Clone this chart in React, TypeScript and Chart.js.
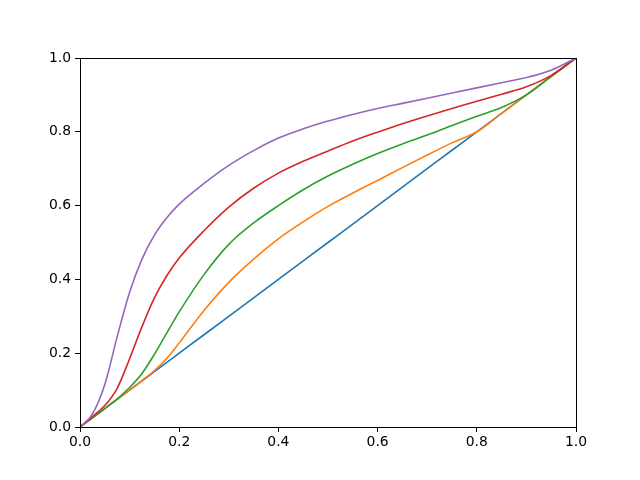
import React, { useEffect, useRef } from "react";
import { Chart, registerables } from "chart.js";

Chart.register(...registerables);

const xs = [0, 0.025, 0.05, 0.075, 0.1, 0.125, 0.15, 0.175, 0.2, 0.25, 0.3, 0.35, 0.4, 0.45, 0.5, 0.55, 0.6, 0.65, 0.7, 0.75, 0.8, 0.85, 0.9, 0.95, 1];
const blue = [0, 0.025, 0.05, 0.075, 0.1, 0.125, 0.15, 0.175, 0.2, 0.25, 0.3, 0.35, 0.4, 0.45, 0.5, 0.55, 0.6, 0.65, 0.7, 0.75, 0.8, 0.85, 0.9, 0.95, 1];
const orange = [0, 0.025, 0.05, 0.075, 0.1, 0.126, 0.153, 0.186, 0.228, 0.316, 0.392, 0.455, 0.51, 0.556, 0.598, 0.634, 0.668, 0.703, 0.737, 0.77, 0.8, 0.85, 0.9, 0.95, 1];
const green = [0, 0.025, 0.05, 0.076, 0.107, 0.145, 0.197, 0.255, 0.312, 0.413, 0.495, 0.553, 0.6, 0.643, 0.68, 0.712, 0.741, 0.767, 0.791, 0.817, 0.842, 0.866, 0.9, 0.95, 1];
const red = [0, 0.028, 0.058, 0.105, 0.185, 0.272, 0.35, 0.41, 0.458, 0.532, 0.596, 0.647, 0.688, 0.72, 0.748, 0.775, 0.799, 0.822, 0.843, 0.863, 0.883, 0.902, 0.922, 0.953, 1];
const purple = [0, 0.035, 0.115, 0.245, 0.365, 0.455, 0.52, 0.567, 0.604, 0.66, 0.709, 0.749, 0.783, 0.808, 0.829, 0.847, 0.863, 0.877, 0.891, 0.905, 0.919, 0.933, 0.947, 0.967, 1];
const tickValues = [0, 0.2, 0.4, 0.6, 0.8, 1.0];

const series = [
  { name: "purple", values: purple, color: "#9467bd" },
  { name: "red", values: red, color: "#d62728" },
  { name: "green", values: green, color: "#2ca02c" },
  { name: "orange", values: orange, color: "#ff7f0e" },
  { name: "blue", values: blue, color: "#1f77b4" },
];

const framePlugin = {
  id: "frame",
  afterDraw(chart: any) {
    const { ctx, chartArea } = chart;
    ctx.save();
    ctx.strokeStyle = "#000";
    ctx.lineWidth = 1;
    ctx.strokeRect(chartArea.left + 0.5, chartArea.top + 0.5, chartArea.right - chartArea.left, chartArea.bottom - chartArea.top);
    ctx.restore();
  },
};

export default function App() {
  const ref = useRef<HTMLCanvasElement>(null);
  useEffect(() => {
    if (!ref.current) return;
    const font = { family: "DejaVu Sans", size: 13.9 };
    const chart = new Chart(ref.current, {
      type: "line",
      data: {
        datasets: series.map((s, i) => ({
          label: s.name,
          data: xs.map((x, j) => ({ x, y: s.values[j] })),
          borderColor: s.color,
          backgroundColor: s.color,
          borderWidth: 1.6,
          pointRadius: 0,
          cubicInterpolationMode: "monotone" as const,
          order: i,
        })),
      },
      options: {
        responsive: false,
        animation: false,
        layout: { padding: { left: 0, right: 64, top: 58, bottom: 0 } },
        plugins: { legend: { display: false }, tooltip: { enabled: false } },
        scales: {
          x: {
            type: "linear",
            min: 0,
            max: 1,
            afterBuildTicks: (scale: any) => {
              scale.ticks = tickValues.map((v) => ({ value: v }));
            },
            afterFit: (scale: any) => {
              scale.height = 53;
            },
            grid: { drawOnChartArea: false, drawTicks: true, tickLength: 5, tickColor: "#000" },
            border: { display: true, color: "#000" },
            ticks: { color: "#000", font, padding: 2, maxRotation: 0, callback: (v: any) => Number(v).toFixed(1) },
          },
          y: {
            type: "linear",
            min: 0,
            max: 1,
            afterBuildTicks: (scale: any) => {
              scale.ticks = tickValues.map((v) => ({ value: v }));
            },
            afterFit: (scale: any) => {
              scale.width = 80;
            },
            grid: { drawOnChartArea: false, drawTicks: true, tickLength: 5, tickColor: "#000" },
            border: { display: true, color: "#000" },
            ticks: { color: "#000", font, padding: 4, callback: (v: any) => Number(v).toFixed(1) },
          },
        },
      },
      plugins: [framePlugin],
    });
    return () => chart.destroy();
  }, []);
  return (
    <div style={{ position: "fixed", left: 0, top: 0, width: 640, height: 480, background: "#fff" }}>
      <canvas ref={ref} width={640} height={480} style={{ width: 640, height: 480 }} />
    </div>
  );
}
